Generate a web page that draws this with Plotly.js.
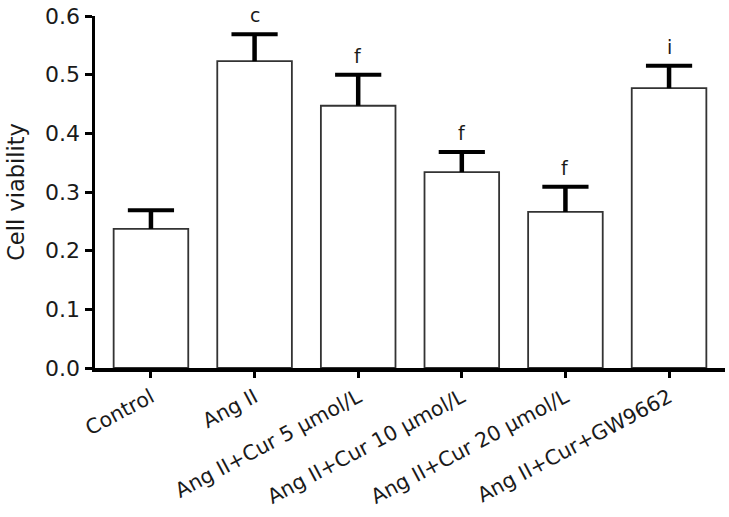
<!DOCTYPE html>
<html>
<head>
<meta charset="utf-8">
<script src="https://cdn.plot.ly/plotly-3.0.1.min.js"></script>
<style>html,body{margin:0;padding:0;background:#fff;}#chart{width:729px;height:517px;}</style>
</head>
<body>
<div id="chart"></div>
<script>
const categories = ['Control', 'Ang II', 'Ang II+Cur 5 μmol/L', 'Ang II+Cur 10 μmol/L', 'Ang II+Cur 20 μmol/L', 'Ang II+Cur+GW9662'];
const viability = [0.237, 0.523, 0.447, 0.334, 0.266, 0.477];
const errorPlus = [0.032, 0.046, 0.053, 0.034, 0.043, 0.038];
const letters = ['', 'c', 'f', 'f', 'f', 'i'];
const yTicks = [0, 0.1, 0.2, 0.3, 0.4, 0.5, 0.6];
const yTickLabels = ['0.0', '0.1', '0.2', '0.3', '0.4', '0.5', '0.6'];

const font = 'DejaVu Sans, Verdana, sans-serif';
const errTop = viability.map((v, i) => v + errorPlus[i]);

const bars = {
  type: 'bar',
  x: categories,
  y: viability,
  width: 0.72,
  marker: {color: '#ffffff', line: {color: '#333333', width: 1.8}},
  error_y: {type: 'data', symmetric: false, array: errorPlus, arrayminus: errorPlus.map(() => 0), color: '#000', thickness: 4.5, width: 0},
  hoverinfo: 'none'
};

const caps = {
  type: 'scatter', mode: 'markers',
  x: categories, y: errTop,
  marker: {symbol: 'line-ew', size: 33, color: '#000', line: {color: '#000', width: 4}},
  hoverinfo: 'none', cliponaxis: false
};

const annotations = categories.map((c, i) => ({
  x: c, y: errTop[i], text: letters[i], showarrow: false,
  yanchor: 'bottom', yshift: 6, font: {family: font, size: 19, color: '#1a1a1a'}
})).filter((a, i) => letters[i] !== '');

const layout = {
  width: 729, height: 517,
  margin: {l: 95, r: 4, t: 16, b: 149},
  paper_bgcolor: '#fff', plot_bgcolor: '#fff',
  showlegend: false,
  xaxis: {
    range: [-0.54, 5.54], showline: true, linecolor: '#000', linewidth: 3.5,
    ticks: 'outside', ticklen: 6, tickwidth: 3, tickcolor: '#000',
    tickangle: -28, tickfont: {family: font, size: 20.5, color: '#1a1a1a'},
    showgrid: false, zeroline: false, fixedrange: true, automargin: false
  },
  yaxis: {
    range: [0, 0.6], tickvals: yTicks, ticktext: yTickLabels,
    showline: true, linecolor: '#000', linewidth: 3.5,
    ticks: 'outside', ticklen: 7, tickwidth: 3, tickcolor: '#000',
    tickfont: {family: font, size: 22, color: '#1a1a1a'},
    title: {text: 'Cell viability', font: {family: font, size: 22.5, color: '#1a1a1a'}, standoff: 15},
    showgrid: false, zeroline: false, fixedrange: true, automargin: false
  },
  annotations: annotations
};

Plotly.newPlot('chart', [bars, caps], layout, {displayModeBar: false, staticPlot: true});
</script>
</body>
</html>
